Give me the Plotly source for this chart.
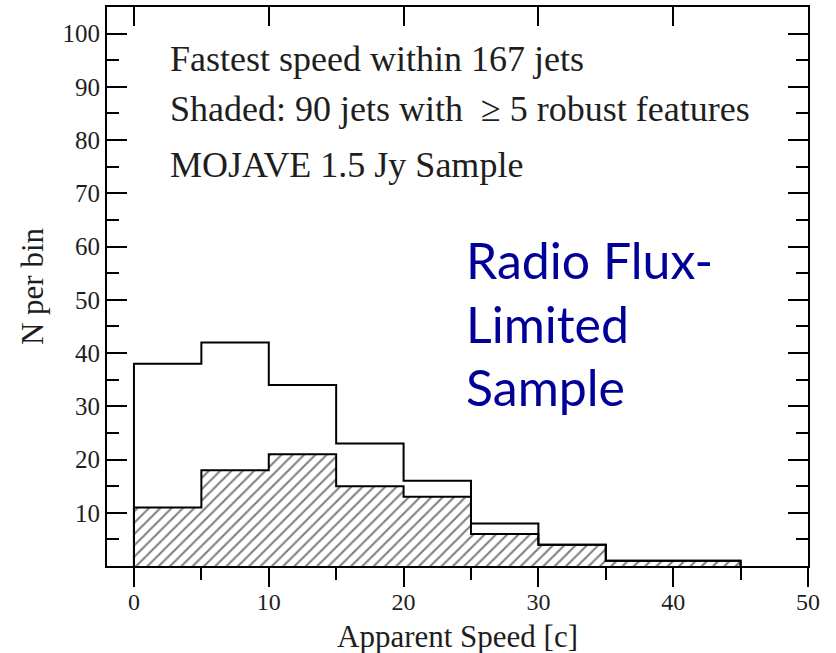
import plotly.graph_objects as go

# Data (histogram of fastest apparent speed, bin width 5 c)
bin_left = [0, 5, 10, 15, 20, 25, 30, 35, 40]
bin_width = 5
all_counts = [38, 42, 34, 23, 16, 8, 4, 1, 1]        # 167 jets
shaded_counts = [11, 18, 21, 15, 13, 6, 4, 1, 1]    # 90 jets with >=5 robust features

x_ticks = [0, 10, 20, 30, 40, 50]
y_ticks = [10, 20, 30, 40, 50, 60, 70, 80, 90, 100]

info_lines = ["Fastest speed within 167 jets",
              "Shaded: 90 jets with  \u2265 5 robust features",
              "MOJAVE 1.5 Jy Sample"]
blue_lines = ["Radio Flux-", "Limited", "Sample"]


def step_xy(counts):
    right = bin_left[-1] + bin_width
    xs = [bin_left[0]] + bin_left + [right, right]
    ys = [0] + counts + [counts[-1], 0]
    return xs, ys


SERIF = "Liberation Serif, Times New Roman, serif"
TXT = "#1e1e1e"
fig = go.Figure()

sx, sy = step_xy(shaded_counts)
fig.add_trace(go.Scatter(
    x=sx, y=sy, mode="lines", line=dict(color="black", width=2, shape="hv"),
    fill="tozeroy", fillcolor="white",
    fillpattern=dict(shape="/", fgcolor="black", bgcolor="white", size=8, solidity=0.26),
    showlegend=False, hoverinfo="skip"))

ax, ay = step_xy(all_counts)
fig.add_trace(go.Scatter(
    x=ax, y=ay, mode="lines", line=dict(color="black", width=2, shape="hv"),
    showlegend=False, hoverinfo="skip"))

# dummy trace so the top axis is drawn
fig.add_trace(go.Scatter(x=[0], y=[0], xaxis="x2", mode="markers",
                         marker=dict(opacity=0), showlegend=False, hoverinfo="skip"))

fig.update_layout(
    width=836, height=653,
    margin=dict(l=107, r=28, t=7, b=87),
    paper_bgcolor="white", plot_bgcolor="white",
    font=dict(family=SERIF, color=TXT),
    xaxis=dict(range=[-2, 50], tickvals=x_ticks, ticks="outside", ticklen=19, tickwidth=2,
               tickcolor="black", showline=True, linewidth=2, linecolor="black",
               showgrid=False, zeroline=False, ticklabelstandoff=-6,
               minor=dict(tickvals=[5, 15, 25, 35, 45], ticks="outside", ticklen=12,
                          tickwidth=2, tickcolor="black", showgrid=False),
               tickfont=dict(family=SERIF, size=24, color=TXT)),
    xaxis2=dict(range=[-2, 50], overlaying="x", side="top", tickvals=x_ticks, ticks="inside",
                ticklen=19, tickwidth=2, tickcolor="black", showline=True, linewidth=2,
                linecolor="black", showticklabels=False, showgrid=False, zeroline=False),
    yaxis=dict(range=[0, 105], tickvals=y_ticks, ticks="inside", ticklen=20, tickwidth=2,
               tickcolor="black", showline=True, linewidth=2, linecolor="black", mirror="ticks",
               showgrid=False, zeroline=False,
               minor=dict(tickvals=[5, 15, 25, 35, 45, 55, 65, 75, 85, 95], ticks="inside",
                          ticklen=12, tickwidth=2, tickcolor="black", showgrid=False),
               tickfont=dict(family=SERIF, size=25, color=TXT),
               title=dict(text="N per bin", font=dict(family=SERIF, size=31, color=TXT),
                          standoff=10)),
)

# x-axis title as an annotation for precise placement
fig.add_annotation(x=0.5, y=-(636 - 566) / 559, xref="paper", yref="paper",
                   text="Apparent Speed [c]", showarrow=False,
                   xanchor="center", yanchor="middle",
                   font=dict(family=SERIF, size=31, color=TXT))

info_y = [95.3, 85.9, 75.4]
for txt, yy in zip(info_lines, info_y):
    fig.add_annotation(x=2.5, y=yy, xref="x", yref="y", text=txt, showarrow=False,
                       xanchor="left", yanchor="middle",
                       font=dict(family=SERIF, size=36, color=TXT))

blue_y = [57.4, 45.4, 33.6]
for txt, yy in zip(blue_lines, blue_y):
    fig.add_annotation(x=24.5, y=yy, xref="x", yref="y", text=txt, showarrow=False,
                       xanchor="left", yanchor="middle",
                       font=dict(family="Lato", size=50, color="#000099"))

fig.write_html("out.html")
